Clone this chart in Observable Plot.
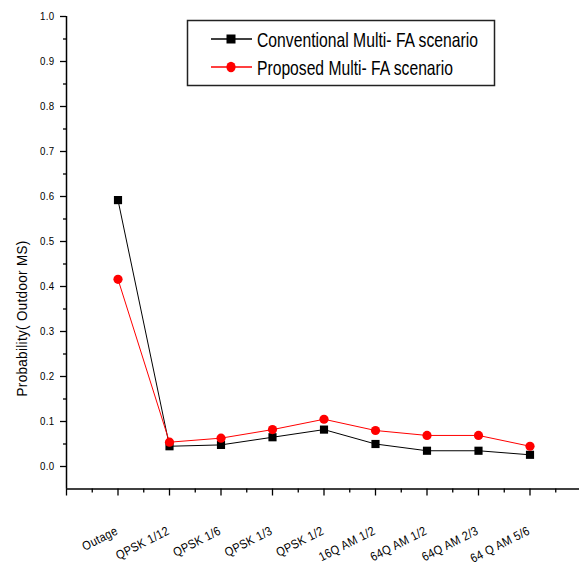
<!DOCTYPE html>
<html><head>
<meta charset="utf-8">
<script src="https://cdn.jsdelivr.net/npm/d3@7"></script>
<script src="https://cdn.jsdelivr.net/npm/@observablehq/plot@0.6"></script>
<style>
body{margin:0;background:#fff}
#c{position:relative;width:579px;height:568px;overflow:hidden}
#c svg{position:absolute;left:0;top:0}
</style>
</head><body><div id="c"></div>
<script>
const categories = ["Outage","QPSK 1/12","QPSK 1/6","QPSK 1/3","QPSK 1/2","16Q AM 1/2","64Q AM 1/2","64Q AM 2/3","64 Q AM 5/6"];
const conventional = [0.592,0.045,0.048,0.065,0.082,0.050,0.035,0.035,0.026];
const proposed = [0.416,0.054,0.063,0.082,0.105,0.080,0.069,0.069,0.045];
const seriesNames = ["Conventional Multi- FA scenario","Proposed Multi- FA scenario"];
const yTicks = [0,0.1,0.2,0.3,0.4,0.5,0.6,0.7,0.8,0.9,1.0];
const yMinor = [0.05,0.15,0.25,0.35,0.45,0.55,0.65,0.75,0.85,0.95];
const xMajor = [0,1,2,3,4,5,6,7,8,9,10];
const xMinor = [0.5,1.5,2.5,3.5,4.5,5.5,6.5,7.5,8.5,9.5];
const yTitle = "Probability( Outdoor MS)";

const rows = categories.map((c,i)=>({i:i+1,c,conv:conventional[i],prop:proposed[i]}));
const font = "'Liberation Sans',Arial,sans-serif";

const chart = Plot.plot({
  width:579, height:568,
  marginTop:16, marginBottom:79.5, marginLeft:66, marginRight:-2,
  x:{type:"linear", domain:[0,10]},
  y:{domain:[-0.05,1.0]},
  style:{fontFamily:font, fontSize:"11px", color:"#000", background:"transparent", letterSpacing:"0.4px"},
  marks:[
    Plot.axisY({ticks:yTicks, tickSize:6, tickPadding:6, tickFormat:d3.format(".1f"), label:null, strokeWidth:1.3, className:"ytick"}),
    Plot.axisY({ticks:yMinor, tickSize:3, tickFormat:()=>"", label:null, strokeWidth:1.3}),
    Plot.axisX({ticks:xMajor, tickSize:7, tickFormat:()=>"", label:null, strokeWidth:1.3}),
    Plot.axisX({ticks:xMinor, tickSize:4, tickFormat:()=>"", label:null, strokeWidth:1.3}),
    Plot.ruleX([0], {y1:-0.05, y2:1.0, strokeWidth:1.5}),
    Plot.ruleY([-0.05], {x1:0, x2:10, strokeWidth:1.5}),
    Plot.text(rows, {x:"i", y:()=>-0.05, text:"c", rotate:-27, textAnchor:"end", lineAnchor:"middle", dx:-1, dy:41, fontSize:12.5, className:"xlab"}),
    Plot.text([yTitle], {x:()=>0, y:()=>0.329, text:d=>d, rotate:-90, dx:-44, fontSize:15.5, lineAnchor:"middle", className:"ytitle"}),
    Plot.line(rows, {x:"i", y:"conv", stroke:"#000", strokeWidth:1}),
    Plot.line(rows, {x:"i", y:"prop", stroke:"#ff0000", strokeWidth:1}),
    Plot.dot(rows, {x:"i", y:"conv", symbol:"square", r:4.6, fill:"#000", stroke:"none"}),
    Plot.dot(rows, {x:"i", y:"prop", symbol:"circle", r:4.6, fill:"#ff0000", stroke:"none"})
  ]
});
document.getElementById("c").appendChild(chart);

// narrow, tall glyphs like the original export: compress glyphs horizontally
d3.select(chart).selectAll("g.ytitle text").attr("textLength",156).attr("lengthAdjust","spacingAndGlyphs");
d3.select(chart).selectAll("g.xlab text, g.ytick text").each(function(){
  const n = this.getComputedTextLength();
  d3.select(this).attr("textLength", n*0.88).attr("lengthAdjust","spacingAndGlyphs");
});

// Legend overlay (inside plot area, as in the reference)
const lg = d3.select("#c").append("svg").attr("width",579).attr("height",568).style("pointer-events","none");
lg.append("rect").attr("x",187.5).attr("y",20.5).attr("width",307).attr("height",65)
  .attr("fill","#fff").attr("stroke","#222").attr("stroke-width",1.5);
const items = [
  {name:seriesNames[0], color:"#000", sym:"square", y:39, len:221},
  {name:seriesNames[1], color:"#ff0000", sym:"circle", y:67, len:196}
];
items.forEach(it=>{
  lg.append("line").attr("x1",211).attr("x2",252).attr("y1",it.y).attr("y2",it.y).attr("stroke",it.color).attr("stroke-width",1.3);
  if(it.sym==="square") lg.append("rect").attr("x",226.5).attr("y",it.y-4.5).attr("width",9).attr("height",9).attr("fill",it.color);
  else lg.append("ellipse").attr("cx",231).attr("cy",it.y).attr("rx",4.6).attr("ry",5.2).attr("fill",it.color);
  lg.append("text").attr("x",257).attr("y",it.y+7.5).attr("font-family",font).attr("font-size",21)
    .attr("textLength",it.len).attr("lengthAdjust","spacingAndGlyphs").text(it.name);
});
</script>
</body></html>
